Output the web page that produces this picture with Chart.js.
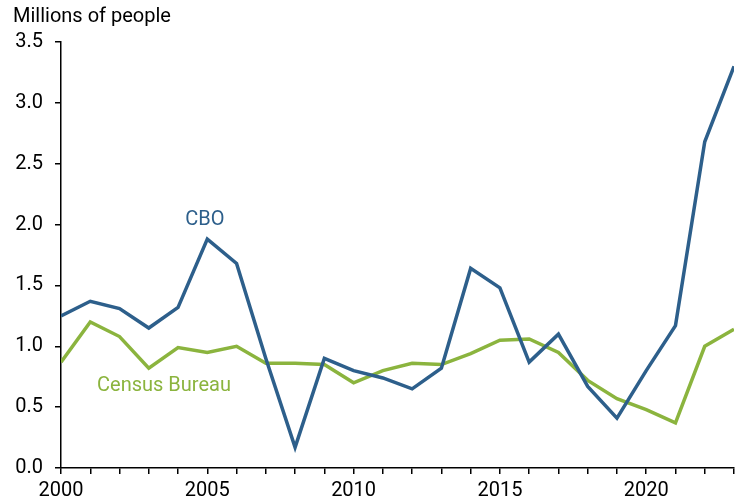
<!DOCTYPE html>
<html>
<head>
<meta charset="utf-8">
<script src="https://cdn.jsdelivr.net/npm/chart.js@4"></script>
<style>
  html, body { margin: 0; padding: 0; background: #fff; }
  #wrap { position: relative; width: 736px; height: 503px; }
</style>
</head>
<body>
<div id="wrap"><canvas id="migrationChart"></canvas></div>
<script>
// Datos
const years = [2000, 2001, 2002, 2003, 2004, 2005, 2006, 2007, 2008, 2009, 2010, 2011,
               2012, 2013, 2014, 2015, 2016, 2017, 2018, 2019, 2020, 2021, 2022, 2023];
const cboValues = [1.25, 1.37, 1.31, 1.15, 1.32, 1.88, 1.68, 0.90, 0.17, 0.90, 0.80, 0.74,
                   0.65, 0.82, 1.64, 1.48, 0.87, 1.10, 0.67, 0.41, 0.80, 1.17, 2.68, 3.30];
const censusValues = [0.87, 1.20, 1.08, 0.82, 0.99, 0.95, 1.00, 0.86, 0.86, 0.85, 0.70, 0.80,
                      0.86, 0.85, 0.94, 1.05, 1.06, 0.95, 0.72, 0.57, 0.48, 0.37, 1.00, 1.14];
const yTicks = [0, 0.5, 1, 1.5, 2, 2.5, 3, 3.5];
const xLabelYears = [2000, 2005, 2010, 2015, 2020];

const BLUE = '#2d5f8b';
const GREEN = '#8bb43e';
const FONT = 'Roboto, "Liberation Sans", sans-serif';

// Título y etiquetas de las series
const labelsPlugin = {
    id: 'labelsPlugin',
    afterDraw(chart) {
        const ctx = chart.ctx;
        const x = chart.scales.x;
        const y = chart.scales.y;
        ctx.save();
        ctx.font = '20px ' + FONT;
        ctx.textBaseline = 'middle';
        ctx.fillStyle = '#000';
        ctx.textAlign = 'left';
        ctx.fillText('Millions of people', 13, 17);

        ctx.textAlign = 'center';
        ctx.fillStyle = BLUE;
        ctx.fillText('CBO', x.getPixelForValue(2004.92), y.getPixelForValue(2.04));
        ctx.fillStyle = GREEN;
        ctx.fillText('Census Bureau', x.getPixelForValue(2003.52), y.getPixelForValue(0.67));
        ctx.restore();
    }
};

function initializeChart() {
    const ctx = document.getElementById('migrationChart').getContext('2d');
    new Chart(ctx, {
        type: 'line',
        data: {
            datasets: [{
                label: 'CBO',
                data: years.map((yr, i) => ({ x: yr, y: cboValues[i] })),
                borderColor: BLUE,
                borderWidth: 3.5,
                pointRadius: 0,
                tension: 0
            }, {
                label: 'Census Bureau',
                data: years.map((yr, i) => ({ x: yr, y: censusValues[i] })),
                borderColor: GREEN,
                borderWidth: 3.5,
                pointRadius: 0,
                tension: 0
            }]
        },
        options: {
            responsive: true,
            maintainAspectRatio: false,
            animation: false,
            layout: { padding: { top: 42, right: 0, left: 0, bottom: 0 } },
            plugins: {
                legend: { display: false },
                tooltip: { enabled: false }
            },
            scales: {
                x: {
                    type: 'linear',
                    min: 2000,
                    max: 2023,
                    afterFit(scale) {
                        scale.height = 35;
                        scale.paddingRight = 2;
                    },
                    afterBuildTicks(scale) {
                        scale.ticks = years.map(v => ({ value: v }));
                    },
                    ticks: {
                        autoSkip: false,
                        maxRotation: 0,
                        padding: 5,
                        color: '#000',
                        font: { family: FONT, size: 20 },
                        callback: v => xLabelYears.includes(v) ? String(v) : ''
                    },
                    grid: {
                        drawOnChartArea: false,
                        drawTicks: true,
                        tickLength: 6,
                        color: '#000',
                        lineWidth: 1.5
                    },
                    border: { color: '#000', width: 1.5 }
                },
                y: {
                    min: 0,
                    max: 3.5,
                    afterFit(scale) { scale.width = 61; },
                    afterBuildTicks(scale) {
                        scale.ticks = yTicks.map(v => ({ value: v }));
                    },
                    ticks: {
                        padding: 12,
                        color: '#000',
                        font: { family: FONT, size: 20 },
                        callback: v => v.toFixed(1)
                    },
                    grid: {
                        drawOnChartArea: false,
                        drawTicks: true,
                        tickLength: 6,
                        color: '#000',
                        lineWidth: 1.5
                    },
                    border: { color: '#000', width: 1.5 }
                }
            }
        },
        plugins: [labelsPlugin]
    });
}

document.addEventListener('DOMContentLoaded', initializeChart);
</script>
</body>
</html>
